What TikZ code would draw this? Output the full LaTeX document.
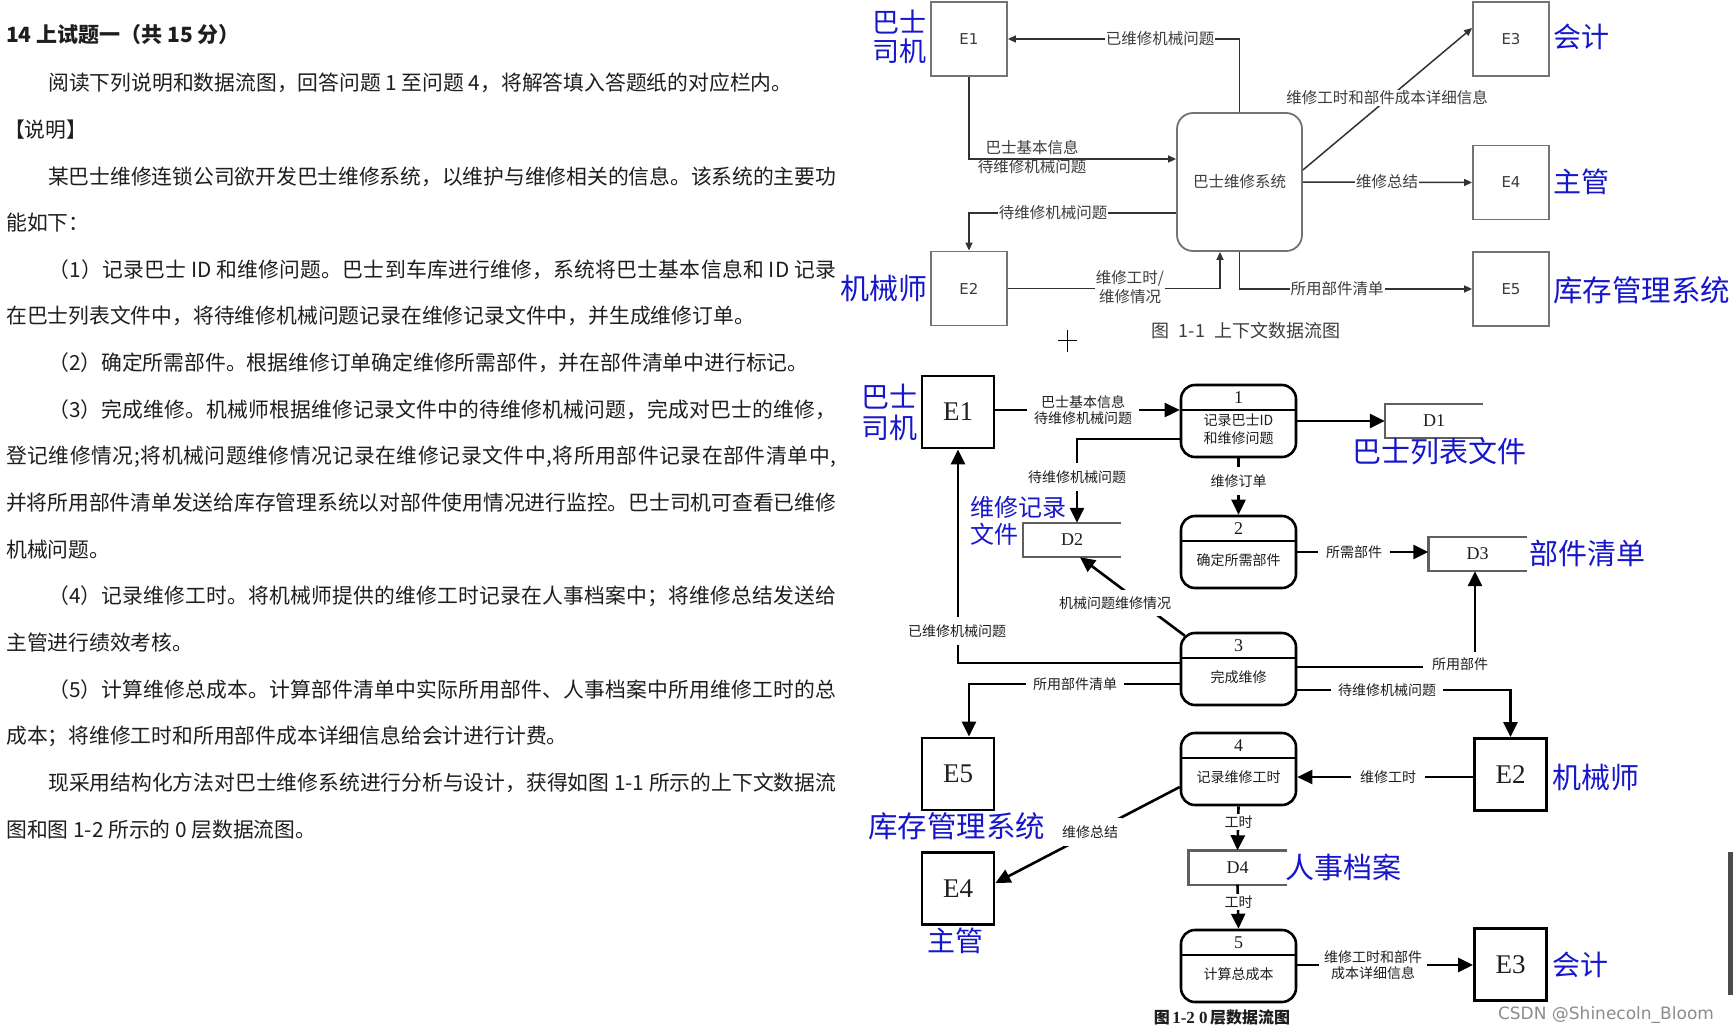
\documentclass[tikz,border=0pt]{standalone}
\usepackage{fontspec}
\setmainfont{Liberation Serif}
\newfontfamily\cjk{Noto Sans CJK SC}
\newfontfamily\uisans{DejaVu Sans}
\usetikzlibrary{arrows.meta,calc}
% stretchable glue between Chinese characters, so full lines can be justified
\XeTeXinterchartokenstate=1
\newcount\cjkcode
\def\setcjkrange#1#2{\cjkcode=#1\relax
  \loop\XeTeXcharclass\cjkcode=1\relax\ifnum\cjkcode<#2\advance\cjkcode by 1\repeat}
\setcjkrange{"3000}{"303F}
\setcjkrange{"4E00}{"9FFF}
\setcjkrange{"FF00}{"FFEF}
\XeTeXinterchartoks 1 1 = {\hskip 0pt plus 2pt minus 0.8pt\relax}
\XeTeXinterchartoks 0 1 = {\hskip 0pt plus 2pt minus 0.8pt\relax}
\XeTeXinterchartoks 1 0 = {\hskip 0pt plus 2pt minus 0.8pt\relax}
\hbadness=10000
\hfuzz=20pt
\definecolor{labelblue}{RGB}{22,22,204}
\definecolor{ink}{RGB}{30,30,30}
\definecolor{uibox}{RGB}{115,115,115}
\definecolor{uiline}{RGB}{50,50,50}
\definecolor{uitext}{RGB}{60,60,60}
\definecolor{storegray}{RGB}{95,95,95}
\newcommand\pxfont[2]{\fontsize{#1}{#2}\selectfont}
% process of the level-0 diagram: name, top y, number, text
\newcommand\dfdproc[4]{%
  \node[procshape] (#1) at (1238.5,#2+36) {};
  \draw[divider] (1181,#2+25) -- (1296,#2+25);
  \node[procnum] (#1n) at (1238.5,#2+13) {#3};
  \node[proctext] (#1t) at (1238.5,#2+44) {#4};
}
% data store, open on the right: name, x, y, label
\newcommand\dfdstore[4]{%
  \node[storebox] (#1) at (#2,#3) {#4};
  \draw[storeline] (#1.north east) -- (#1.north west) -- (#1.south west) -- (#1.south east);
}
\begin{document}
\begin{tikzpicture}[x=1pt,y=-1pt,
  bodytext/.style={font=\cjk\pxfont{20.8}{25}, text=ink, inner sep=0pt, anchor=west},
  uent/.style={draw=uibox, line width=1.8pt, minimum width=76pt, minimum height=74pt, inner sep=0pt, font=\uisans\pxfont{15}{15}, text=uitext},
  usysbox/.style={draw=uibox, line width=1.8pt, rounded corners=16pt, minimum width=125pt, minimum height=138pt, inner sep=0pt, font=\cjk\pxfont{15.5}{18}, text=uitext},
  uflow/.style={draw=uiline, line width=1.5pt, -{Triangle[length=8pt,width=7pt]}},
  ulbl/.style={font=\cjk\pxfont{15.5}{19}, text=uitext, fill=white, inner xsep=1pt, inner ysep=1pt, align=center},
  ubluetag/.style={font=\cjk\pxfont{28}{29}, text=labelblue, inner sep=0pt, align=left},
  ent/.style={draw=black, line width=2.8pt, minimum width=72pt, minimum height=72pt, inner sep=0pt, font=\pxfont{27}{27}, text=ink},
  procshape/.style={draw=black, line width=2.6pt, rounded corners=14pt, minimum width=115pt, minimum height=72pt, inner sep=0pt},
  divider/.style={draw=black, line width=1.6pt},
  procnum/.style={font=\pxfont{18}{18}, text=ink, inner sep=0pt},
  proctext/.style={font=\cjk\pxfont{14}{18}, text=ink, inner sep=0pt, align=center},
  storebox/.style={minimum width=98pt, minimum height=34pt, inner sep=0pt, font=\pxfont{18}{18}, text=ink},
  storeline/.style={draw=storegray, line width=2.4pt},
  flow/.style={draw=black, line width=2.6pt, -{Triangle[length=15pt,width=14pt]}},
  lbl/.style={font=\cjk\pxfont{14}{16}, text=ink, fill=white, inner xsep=7pt, inner ysep=3pt, align=center},
  bluetag/.style={font=\cjk\pxfont{29}{31}, text=labelblue, inner sep=0pt, align=left},
]
\fill[white] (0,0) rectangle (1733,1034);
\useasboundingbox (0,0) rectangle (1733,1034);

% ---------------- question text ----------------
\node[bodytext, font=\cjk\bfseries\pxfont{21}{24}] (title) at (6,35) {14 上试题一（共 15 分）};
\node[bodytext] (t0) at (48,83) {阅读下列说明和数据流图，回答问题 1 至问题 4，将解答填入答题纸的对应栏内。};
\node[bodytext] (t1) at (4,129.6) {【说明】};
\node[bodytext] (t2) at (48,176.3) {\hbox to 788pt{某巴士维修连锁公司欲开发巴士维修系统，以维护与维修相关的信息。该系统的主要功}};
\node[bodytext] (t3) at (6,223) {能如下：};
\node[bodytext] (t4) at (48,269.6) {\hbox to 788pt{（1）记录巴士 ID 和维修问题。巴士到车库进行维修，系统将巴士基本信息和 ID 记录}};
\node[bodytext] (t5) at (6,316.2) {在巴士列表文件中，将待维修机械问题记录在维修记录文件中，并生成维修订单。};
\node[bodytext] (t6) at (48,362.9) {（2）确定所需部件。根据维修订单确定维修所需部件，并在部件清单中进行标记。};
\node[bodytext] (t7) at (48,409.5) {\hbox to 788pt{（3）完成维修。机械师根据维修记录文件中的待维修机械问题，完成对巴士的维修，}};
\node[bodytext] (t8) at (6,456.2) {\hbox to 830pt{登记维修情况;将机械问题维修情况记录在维修记录文件中,将所用部件记录在部件清单中,}};
\node[bodytext] (t9) at (6,502.8) {\hbox to 830pt{并将所用部件清单发送给库存管理系统以对部件使用情况进行监控。巴士司机可查看已维修}};
\node[bodytext] (t10) at (6,549.5) {机械问题。};
\node[bodytext] (t11) at (48,596.1) {\hbox to 788pt{（4）记录维修工时。将机械师提供的维修工时记录在人事档案中；将维修总结发送给}};
\node[bodytext] (t12) at (6,642.8) {主管进行绩效考核。};
\node[bodytext] (t13) at (48,689.4) {\hbox to 788pt{（5）计算维修总成本。计算部件清单中实际所用部件、人事档案中所用维修工时的总}};
\node[bodytext] (t14) at (6,736.1) {成本；将维修工时和所用部件成本详细信息给会计进行计费。};
\node[bodytext] (t15) at (48,782.7) {\hbox to 788pt{现采用结构化方法对巴士维修系统进行分析与设计，获得如图 1-1 所示的上下文数据流}};
\node[bodytext] (t16) at (6,829.4) {图和图 1-2 所示的 0 层数据流图。};

% ---------------- context diagram (fig. 1-1) ----------------
\node[uent] (ue1) at (969,39) {E1};
\node[uent] (ue2) at (969,288.5) {E2};
\node[uent] (ue3) at (1511,39) {E3};
\node[uent] (ue4) at (1511,182.5) {E4};
\node[uent] (ue5) at (1511,289) {E5};
\node[usysbox] (usys) at (1239.5,182) {巴士维修系统};

\draw[uflow] (ue1.south) |- (usys.west |- 0,159);
\node[ulbl, fill=none] (ul1) at (1032,157.5) {巴士基本信息\\待维修机械问题};
\draw[uflow] (usys.north) |- (ue1.east);
\node[ulbl] (ul2) at (1160,39) {已维修机械问题};
\draw[uflow] (usys.west |- 0,213) -| (ue2.north);
\node[ulbl] (ul3) at (1053,213) {待维修机械问题};
\draw[uflow] (ue2.east) -| (usys.south -| 1220,0);
\node[ulbl] (ul4) at (1130,287.5) {维修工时/\\维修情况};
\draw[uflow] (usys.south) |- (ue5.west);
\node[ulbl] (ul5) at (1337,289) {所用部件清单};
\draw[uflow] (usys.east) -- (ue4.west);
\node[ulbl] (ul6) at (1387,182) {维修总结};
\draw[uflow] (usys.east |- 0,170) -- (ue3.west |- 0,28);
\node[ulbl] (ul7) at (1387,98) {维修工时和部件成本详细信息};

\node[ubluetag, font=\cjk\pxfont{27}{29}] (ub1) at (899.5,36.5) {巴士\\司机};
\node[ubluetag, anchor=west, font=\cjk\pxfont{29}{29}] (ub2) at (840,288) {机械师};
\node[ubluetag, anchor=west] (ub3) at (1553,37) {会计};
\node[ubluetag, anchor=west] (ub4) at (1553,182) {主管};
\node[ubluetag, anchor=west, font=\cjk\pxfont{29.5}{29.5}] (ub5) at (1553,290) {库存管理系统};

\node[font=\cjk\pxfont{18}{18}, text=uitext, inner sep=0pt] (cap1) at (1246,331) {图\hspace{9pt}1-1\hspace{9pt}上下文数据流图};
\draw[line width=1pt, black] (1058,340.5) -- (1077,340.5) (1067.5,330) -- (1067.5,352);

% ---------------- level-0 diagram (fig. 1-2) ----------------
\node[ent] (e1) at (958,412) {E1};
\node[ent] (e5) at (958,774) {E5};
\node[ent] (e4) at (958,888.5) {E4};
\node[ent] (e2) at (1510.5,774.5) {E2};
\node[ent] (e3) at (1510.5,964.5) {E3};

\dfdproc{p1}{385}{1}{记录巴士ID\\和维修问题}
\dfdproc{p2}{516}{2}{确定所需部件}
\dfdproc{p3}{633}{3}{完成维修}
\dfdproc{p4}{733}{4}{记录维修工时}
\dfdproc{p5}{930}{5}{计算总成本}

\dfdstore{d1}{1434}{421}{D1}
\dfdstore{d2}{1072}{540}{D2}
\dfdstore{d3}{1477.5}{554}{D3}
\dfdstore{d4}{1237.5}{867.5}{D4}

\draw[flow] (e1.east |- 0,410) -- (p1.west |- 0,410);
\node[lbl] (la) at (1083,410) {巴士基本信息\\待维修机械问题};
\draw[flow] (p1.east) -- (d1.west);
\draw[flow] (p1.west |- 0,439) -| (d2.north -| 1077,0);
\node[lbl, inner ysep=8pt] (lb) at (1077,477) {待维修机械问题};
\draw[flow] (p1.south) -- (p2.north);
\node[lbl, inner ysep=8pt] (lc) at (1238.5,481) {维修订单};
\draw[flow] (p2.east) -- (p2.east -| d3.west);
\node[lbl, inner xsep=8pt] (ld) at (1354,552) {所需部件};
\draw[flow] ($(p3.north west)+(5,4)$) -- (d2.south -| 1080,0);
\node[lbl, inner ysep=7pt, inner xsep=3pt] (le) at (1115,603) {机械问题维修情况};
\draw[flow] (p3.west |- 0,663) -| (e1.south);
\node[lbl, inner ysep=8pt, inner xsep=2pt] (lf) at (957,631) {已维修机械问题};
\draw[flow] (p3.west |- 0,684) -| (e5.north -| 969,0);
\node[lbl] (lg) at (1075,684) {所用部件清单};
\draw[flow] (p3.east |- 0,667) -| (d3.south -| 1475,0);
\node[lbl, inner xsep=9pt, inner ysep=6pt] (lh) at (1460,664) {所用部件};
\draw[flow] (p3.east |- 0,690) -| (e2.north);
\node[lbl] (li) at (1387,690) {待维修机械问题};
\draw[flow] (e2.west |- 0,777) -- (p4.east |- 0,777);
\node[lbl, inner xsep=9pt] (lj) at (1388,777) {维修工时};
\draw[flow] (p4.south) -- (d4.north);
\node[lbl, inner xsep=2pt, inner ysep=2pt] (lk) at (1238.5,822) {工时};
\draw[flow] (d4.south) -- (p5.north);
\node[lbl, inner xsep=2pt, inner ysep=2pt] (ll) at (1238.5,902) {工时};
\draw[flow] (p5.east |- 0,965) -- (e3.west |- 0,965);
\node[lbl, inner xsep=5pt] (lm) at (1373,965) {维修工时和部件\\成本详细信息};
\draw[flow] (p4.west |- 0,787) -- (e4.east |- 0,883);
\node[lbl, inner xsep=4pt, inner ysep=8pt] (ln) at (1090,832) {维修总结};

\node[bluetag, font=\cjk\pxfont{28}{31}] (b1) at (889,412.5) {巴士\\司机};
\node[bluetag, anchor=west, font=\cjk\pxfont{24}{27}] (b2) at (970,520.5) {维修记录\\文件};
\node[bluetag, anchor=west] (b3) at (1352,451) {巴士列表文件};
\node[bluetag, anchor=west] (b4) at (1529,553) {部件清单};
\node[bluetag, anchor=west] (b5) at (1552,777) {机械师};
\node[bluetag, anchor=west] (b6) at (1285,867) {人事档案};
\node[bluetag, anchor=west, font=\cjk\pxfont{29.5}{29.5}] (b7) at (868,826) {库存管理系统};
\node[bluetag, anchor=west, font=\cjk\pxfont{28}{28}] (b8) at (927,941) {主管};
\node[bluetag, anchor=west, font=\cjk\pxfont{28}{28}] (b9) at (1552,965) {会计};

\node[inner sep=0pt, text=ink] (cap2) at (1222,1017)
  {{\cjk\bfseries\pxfont{16}{16}图} {\bfseries\pxfont{17}{17}1-2 0} {\cjk\bfseries\pxfont{16}{16}层数据流图}};

\node[font=\uisans\pxfont{17}{17}, text=black!45, inner sep=0pt] (wm) at (1606,1015) {CSDN @Shinecoln\_Bloom};
\fill[black!70] (1728,852) rectangle (1733,995);
\end{tikzpicture}
\end{document}
